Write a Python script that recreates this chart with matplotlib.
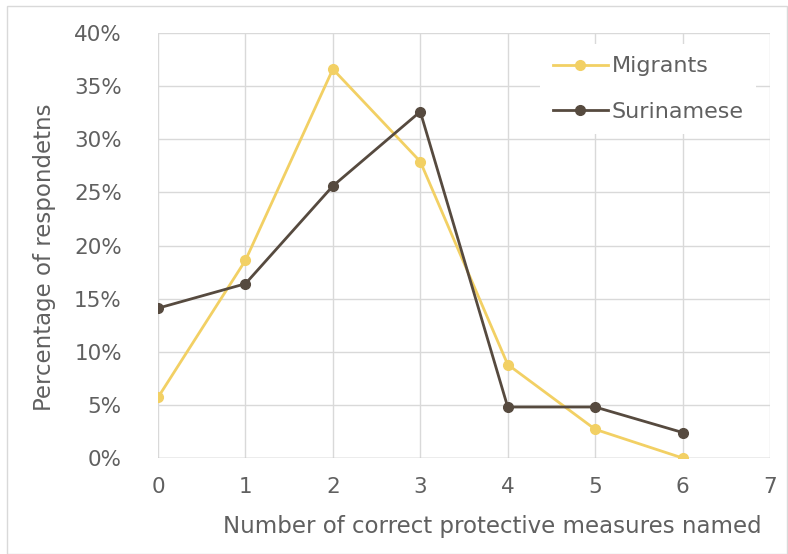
import matplotlib.pyplot as plt
from matplotlib.patches import Rectangle

# data
measures = [0, 1, 2, 3, 4, 5, 6]
migrants = [5.7, 18.6, 36.6, 27.9, 8.8, 2.7, 0.0]
surinamese = [14.1, 16.4, 25.6, 32.6, 4.8, 4.8, 2.4]
y_ticks = [0, 5, 10, 15, 20, 25, 30, 35, 40]

text_col = '#606060'
plt.rcParams['font.family'] = ['DejaVu Sans']

fig = plt.figure(figsize=(7.88, 5.54), dpi=100)
fig.patches.append(Rectangle((0.009, 0.0), 0.99, 0.99, transform=fig.transFigure,
                             fill=False, edgecolor='#d9d9d9', lw=1))
ax = fig.add_axes([158/788, 1 - 458/554, (770-158)/788, (458-33)/554])

ax.plot(measures, migrants, '-o', color='#F2D064', lw=2, ms=7, label='Migrants', zorder=3)
ax.plot(measures, surinamese, '-o', color='#564A3F', lw=2, ms=7, label='Surinamese', zorder=4)

ax.set_xlim(0, 7)
ax.set_ylim(0, 40)
ax.set_xticks(range(8))
ax.set_yticks(y_ticks)
ax.set_yticklabels([f'{t}%' for t in y_ticks])
ax.grid(True, color='#d9d9d9', lw=1)
ax.set_axisbelow(True)
for s in ax.spines.values():
    s.set_visible(False)
ax.axhline(0, color='#bfbfbf', lw=1, zorder=1)
ax.tick_params(length=0, colors=text_col, labelsize=15.5)
ax.tick_params(axis='x', pad=14)
ax.tick_params(axis='y', pad=26)

# axis titles placed in figure pixels to match the original layout
fig.text(45/788, 1 - 257/554, 'Percentage of respondetns', rotation=90,
         color=text_col, fontsize=16.5, ha='center', va='center')
fig.text(492/788, 1 - 527/554, 'Number of correct protective measures named',
         color=text_col, fontsize=16.5, ha='center', va='center')

leg = ax.legend(loc='upper right', bbox_to_anchor=(0.995, 1.0), frameon=True,
                fontsize=16, handlelength=2.5, handletextpad=0.15, labelspacing=1.15,
                borderpad=0.55)
leg.get_frame().set_edgecolor('none')
leg.get_frame().set_facecolor('white')
leg.get_frame().set_alpha(1)
for t in leg.get_texts():
    t.set_color(text_col)

fig.savefig('out.png', dpi=100)
